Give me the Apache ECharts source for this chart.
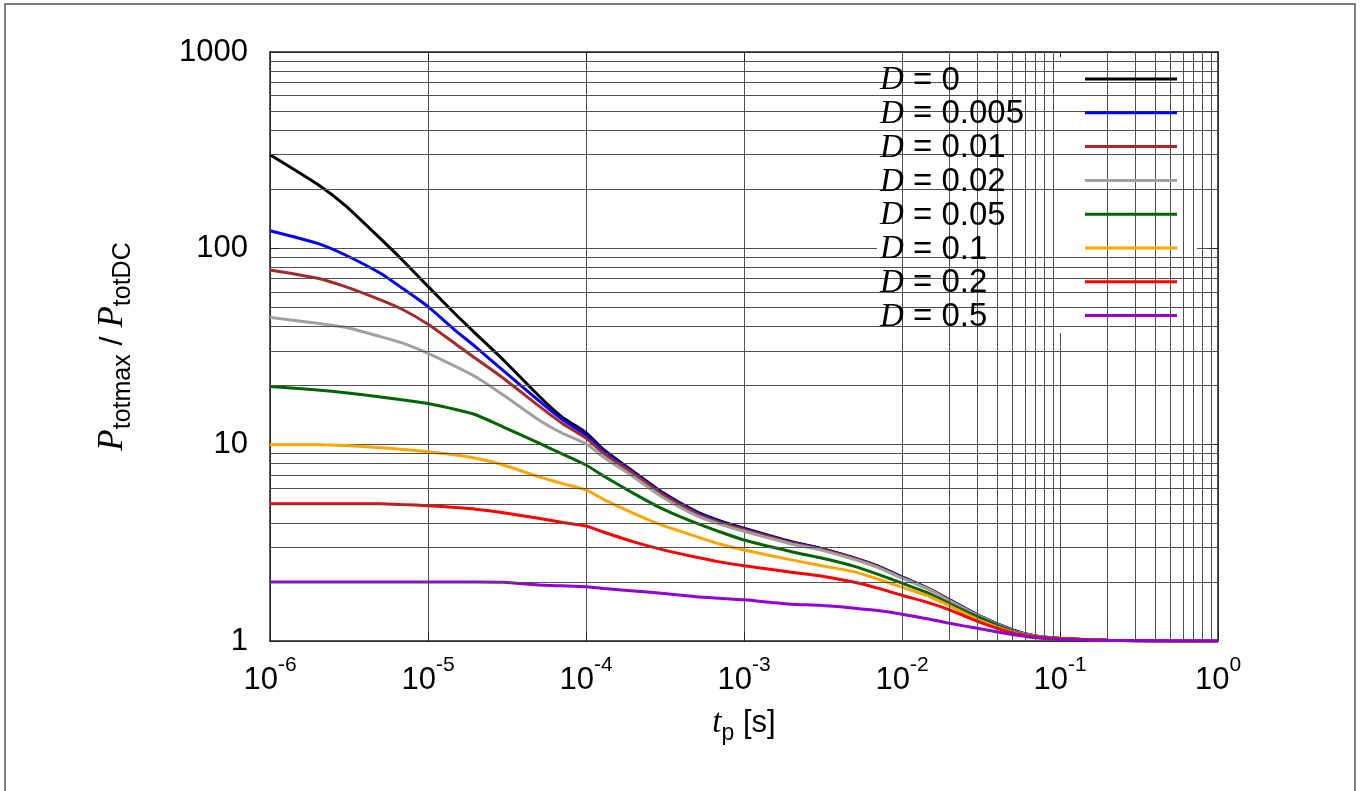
<!DOCTYPE html>
<html>
<head>
<meta charset="utf-8">
<script src="https://cdn.jsdelivr.net/npm/echarts@6/dist/echarts.min.js"></script>
<style>
html,body{margin:0;padding:0;background:#fff;}
#chart{width:1361px;height:791px;}
</style>
</head>
<body>
<div id="chart"></div>
<script>
// ---- data ----
const tValues = [1e-6, 2e-6, 3e-6, 5e-6, 7e-6, 1e-5, 1.5e-5, 2e-5, 3e-5, 5e-5, 7e-5, 1e-4, 1.3e-4, 2e-4, 3e-4, 5e-4, 7e-4, 1e-3, 2e-3, 3e-3, 5e-3, 7e-3, 1e-2, 1.5e-2, 2e-2, 3e-2, 5e-2, 7e-2, 1e-1, 2e-1, 5e-1, 1];
const seriesNames = ['D = 0', 'D = 0.005', 'D = 0.01', 'D = 0.02', 'D = 0.05', 'D = 0.1', 'D = 0.2', 'D = 0.5'];
const seriesColors = ['#000000', '#0000ff', '#a52a2a', '#a0a0a0', '#006400', '#ffa500', '#ff0000', '#9400d3'];
const d0    = [300, 212, 165, 112, 86, 64, 46, 36.8, 27, 17.8, 13.9, 11.5, 9.4, 7.28, 5.76, 4.56, 4.1, 3.75, 3.2, 2.98, 2.65, 2.41, 2.12, 1.84, 1.62, 1.36, 1.14, 1.06, 1.03, 1.01, 1.0, 1.0];
const d0005 = [123, 106, 92.5, 74.6, 62, 50.5, 38, 31.5, 23.8, 16.8, 13.5, 11.2, 9.25, 7.2, 5.7, 4.52, 4.07, 3.72, 3.18, 2.97, 2.64, 2.40, 2.11, 1.83, 1.62, 1.36, 1.14, 1.06, 1.03, 1.01, 1.0, 1.0];
const d001  = [77.6, 70.4, 63.8, 54.6, 48.5, 41, 32.5, 27.5, 21.8, 15.8, 12.9, 10.8, 9.0, 7.1, 5.62, 4.46, 4.02, 3.69, 3.16, 2.95, 2.63, 2.39, 2.10, 1.83, 1.61, 1.35, 1.13, 1.06, 1.03, 1.01, 1.0, 1.0];
const d002  = [44.5, 41.5, 39.6, 35.5, 32.8, 29.2, 25, 22.2, 17.9, 13.4, 11.5, 10.1, 8.6, 6.85, 5.45, 4.35, 3.94, 3.62, 3.12, 2.92, 2.60, 2.37, 2.09, 1.82, 1.60, 1.35, 1.13, 1.06, 1.03, 1.01, 1.0, 1.0];
const d005  = [19.8, 19.0, 18.4, 17.5, 16.9, 16.2, 15.1, 14.2, 12.3, 10.2, 9.0, 7.88, 6.9, 5.65, 4.74, 3.98, 3.6, 3.27, 2.85, 2.66, 2.40, 2.19, 1.97, 1.74, 1.55, 1.33, 1.12, 1.05, 1.03, 1.01, 1.0, 1.0];
const d01   = [10, 10, 9.9, 9.65, 9.45, 9.2, 8.85, 8.52, 7.88, 6.87, 6.35, 5.88, 5.25, 4.47, 3.9, 3.4, 3.12, 2.91, 2.59, 2.43, 2.25, 2.07, 1.88, 1.68, 1.51, 1.29, 1.11, 1.05, 1.03, 1.01, 1.0, 1.0];
const d02   = [5, 5, 5, 5, 4.95, 4.89, 4.78, 4.69, 4.5, 4.22, 4.03, 3.85, 3.58, 3.2, 2.93, 2.67, 2.53, 2.42, 2.24, 2.15, 1.99, 1.86, 1.71, 1.56, 1.44, 1.26, 1.10, 1.05, 1.03, 1.01, 1.0, 1.0];
const d05   = [2, 2, 2, 2, 2, 2, 2, 2, 1.99, 1.93, 1.91, 1.89, 1.85, 1.80, 1.75, 1.68, 1.65, 1.62, 1.54, 1.52, 1.47, 1.43, 1.37, 1.29, 1.23, 1.16, 1.08, 1.04, 1.02, 1.005, 1.0, 1.0];
const allSeries = [d0, d0005, d001, d002, d005, d01, d02, d05];
// minor grid positions (2..9 within each decade)
const xDecades = [-6, -5, -4, -3, -2, -1];
const yDecades = [0, 1, 2];
const minorMult = [2, 3, 4, 5, 6, 7, 8, 9];
// --------------------------------------

const xMinor = [];
xDecades.forEach(d => minorMult.forEach(m => xMinor.push(m * Math.pow(10, d))));
const yMinor = [];
yDecades.forEach(d => minorMult.forEach(m => yMinor.push(m * Math.pow(10, d))));

const gridColor = '#505050';
const sans = 'Liberation Sans, Arial, sans-serif';
const serif = 'Liberation Serif, Times New Roman, serif';

const chart = echarts.init(document.getElementById('chart'), null, {renderer: 'canvas'});

const series = [{
  name: '_grid',
  type: 'line',
  data: [],
  z: 1,
  silent: true,
  markLine: {
    silent: true,
    symbol: ['none', 'none'],
    label: {show: false},
    animation: false,
    lineStyle: {color: gridColor, width: 1, type: 'solid'},
    emphasis: {disabled: true},
    data: xMinor.map(v => ({xAxis: v})).concat(yMinor.map(v => ({yAxis: v})))
  }
}];
allSeries.forEach((arr, i) => {
  series.push({
    name: seriesNames[i],
    type: 'line',
    data: tValues.map((t, k) => [t, arr[k]]),
    showSymbol: false,
    symbol: 'none',
    smooth: 0.2,
    z: 3,
    lineStyle: {color: seriesColors[i], width: 3},
    itemStyle: {color: seriesColors[i]},
    emphasis: {disabled: true},
    animation: false
  });
});

const axisLineStyle = {color: '#222', width: 1.5};

const option = {
  backgroundColor: '#fff',
  animation: false,
  grid: {left: 270, right: 143, top: 52, bottom: 150, containLabel: false},
  xAxis: [{
    type: 'log', logBase: 10, min: 1e-6, max: 1,
    position: 'bottom',
    axisLine: {show: true, lineStyle: axisLineStyle},
    axisTick: {show: true, inside: true, length: 9, lineStyle: {color: '#222'}},
    splitLine: {show: true, lineStyle: {color: gridColor, width: 1}},
    axisLabel: {
      margin: 14,
      formatter: v => '{b|10}{s|' + Math.round(Math.log10(v)) + '}',
      rich: {
        b: {fontSize: 31, fontFamily: sans, color: '#000', lineHeight: 50},
        s: {fontSize: 21, fontFamily: sans, color: '#000', lineHeight: 22, verticalAlign: 'top'}
      }
    },
    name: '{i|t}{sub|p}{n| [s]}',
    nameLocation: 'middle',
    nameGap: 60,
    nameTextStyle: {
      rich: {
        i: {fontSize: 33, fontFamily: serif, fontStyle: 'italic', color: '#000', lineHeight: 44},
        sub: {fontSize: 23, fontFamily: sans, color: '#000', lineHeight: 22, verticalAlign: 'bottom'},
        n: {fontSize: 31, fontFamily: sans, color: '#000', lineHeight: 44}
      }
    }
  }, {
    type: 'log', logBase: 10, min: 1e-6, max: 1,
    position: 'top',
    axisLine: {show: true, lineStyle: axisLineStyle},
    axisTick: {show: true, inside: true, length: 9, lineStyle: {color: '#222'}},
    splitLine: {show: false},
    axisLabel: {show: false}
  }],
  yAxis: [{
    type: 'log', logBase: 10, min: 1, max: 1000,
    position: 'left',
    axisLine: {show: true, lineStyle: axisLineStyle},
    axisTick: {show: true, inside: true, length: 9, lineStyle: {color: '#222'}},
    splitLine: {show: true, lineStyle: {color: gridColor, width: 1}},
    axisLabel: {margin: 22, fontSize: 31, fontFamily: sans, color: '#000', formatter: v => String(Math.round(v))},
    name: '{i|P}{sub|totmax}{n| / }{i|P}{sub|totDC}',
    nameLocation: 'middle',
    nameRotate: 90,
    nameGap: 134,
    nameTextStyle: {
      rich: {
        i: {fontSize: 35, fontFamily: serif, fontStyle: 'italic', color: '#000', lineHeight: 46},
        sub: {fontSize: 25, fontFamily: sans, color: '#000', lineHeight: 24, verticalAlign: 'bottom'},
        n: {fontSize: 32, fontFamily: sans, color: '#000', lineHeight: 46}
      }
    }
  }, {
    type: 'log', logBase: 10, min: 1, max: 1000,
    position: 'right',
    axisLine: {show: true, lineStyle: axisLineStyle},
    axisTick: {show: true, inside: true, length: 9, lineStyle: {color: '#222'}},
    splitLine: {show: false},
    axisLabel: {show: false}
  }],
  legend: [{
    // text column
    data: seriesNames,
    orient: 'vertical',
    left: 874, top: 64,
    padding: 0,
    itemGap: 0.8,
    itemWidth: 1,
    itemHeight: 30,
    selectedMode: false,
    icon: 'rect',
    itemStyle: {opacity: 0},
    lineStyle: {opacity: 0},
    z: 6,
    formatter: name => '{i|D}{n|' + name.slice(1) + '}',
    textStyle: {
      rich: {
        i: {fontSize: 33, fontFamily: serif, fontStyle: 'italic', color: '#000', lineHeight: 30},
        n: {fontSize: 33, fontFamily: sans, color: '#000', lineHeight: 30}
      }
    }
  }, {
    // line samples
    data: seriesNames,
    orient: 'vertical',
    left: 1085, top: 77.5,
    padding: 0,
    itemGap: 30.8,
    itemWidth: 92,
    itemHeight: 3,
    icon: 'rect',
    selectedMode: false,
    z: 6,
    formatter: () => '',
    textStyle: {fontSize: 1, lineHeight: 1}
  }],
  graphic: [{
    type: 'rect',
    z: 4,
    silent: true,
    shape: {x: 877, y: 57, width: 320, height: 276},
    style: {fill: '#fff', stroke: null}
  }, {
    type: 'rect',
    z: 10,
    silent: true,
    shape: {x: 5, y: 4, width: 1350, height: 820},
    style: {fill: null, stroke: '#555', lineWidth: 1.5}
  }],
  series: series
};

chart.setOption(option);
</script>
</body>
</html>
